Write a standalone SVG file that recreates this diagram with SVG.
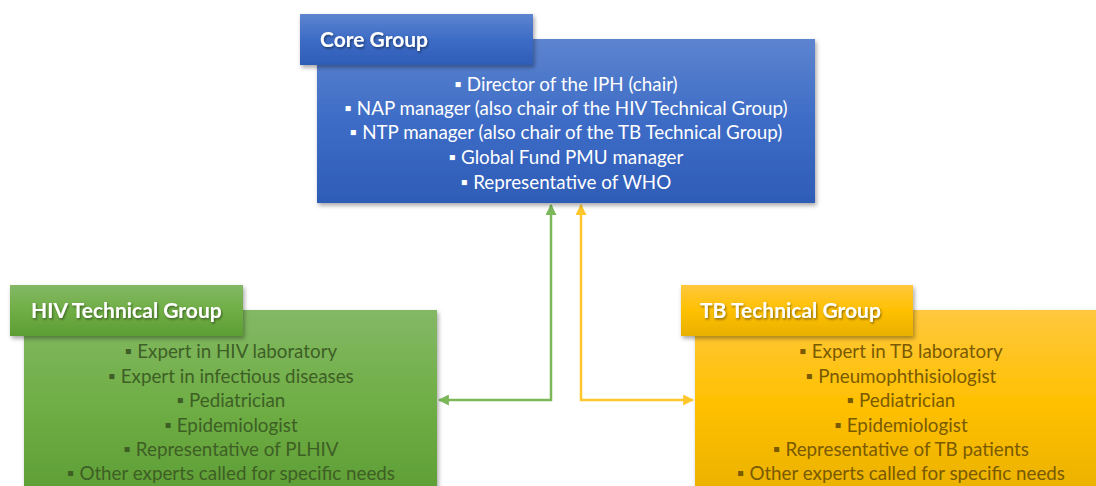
<svg xmlns="http://www.w3.org/2000/svg" width="1096" height="486" viewBox="0 0 1096 486">
<defs>
<style>
.body{font-family:Lato,"Liberation Sans",sans-serif;font-size:18.8px;text-anchor:middle}
.title{font-family:Lato,"Liberation Sans",sans-serif;font-size:21px;font-weight:bold;fill:#ffffff}
.core-t{fill:#ffffff}
.hiv-t{fill:#3d5f25}
.tb-t{fill:#7a5a00}
</style>
<linearGradient id="gBlue" x1="0" y1="0" x2="0" y2="1"><stop offset="0" stop-color="#5d84cf"/><stop offset="0.5" stop-color="#3d6cc6"/><stop offset="1" stop-color="#2e5cb6"/></linearGradient>
<linearGradient id="gGreen" x1="0" y1="0" x2="0" y2="1"><stop offset="0" stop-color="#83b865"/><stop offset="0.5" stop-color="#6fae45"/><stop offset="1" stop-color="#5e9d34"/></linearGradient>
<linearGradient id="gYellow" x1="0" y1="0" x2="0" y2="1"><stop offset="0" stop-color="#ffc83e"/><stop offset="0.5" stop-color="#ffc000"/><stop offset="1" stop-color="#e8b000"/></linearGradient>
<filter id="sh" x="-10%" y="-10%" width="130%" height="140%"><feDropShadow dx="1.5" dy="2.5" stdDeviation="2" flood-color="#000" flood-opacity="0.35"/></filter>
<filter id="tsh" x="-10%" y="-20%" width="130%" height="160%"><feDropShadow dx="1" dy="1.5" stdDeviation="1" flood-color="#000" flood-opacity="0.45"/></filter>
<marker id="aG" viewBox="0 0 10 10" refX="9" refY="5" markerWidth="4.4" markerHeight="4.4" orient="auto-start-reverse"><path d="M0,0 L10,5 L0,10 z" fill="#7cb75a"/></marker>
<marker id="aY" viewBox="0 0 10 10" refX="9" refY="5" markerWidth="4.4" markerHeight="4.4" orient="auto-start-reverse"><path d="M0,0 L10,5 L0,10 z" fill="#ffc72c"/></marker>
</defs>
<rect width="1096" height="486" fill="#ffffff"/>
<g id="connectors" fill="none" stroke-width="2.5">
<path d="M551,205 V400 H439" stroke="#7cb75a" marker-start="url(#aG)" marker-end="url(#aG)"/>
<path d="M581,205 V400 H693" stroke="#ffc72c" marker-start="url(#aY)" marker-end="url(#aY)"/>
</g>
<g id="core">
<rect x="317" y="39" width="498" height="164" fill="url(#gBlue)" filter="url(#sh)"/>
<rect x="300" y="14" width="233" height="51" fill="url(#gBlue)" filter="url(#sh)"/>
<text class="title" x="320" y="47" filter="url(#tsh)">Core Group</text>
<g class="body core-t">
<text x="566" y="91">▪ Director of the IPH (chair)</text>
<text x="566" y="115">▪ NAP manager (also chair of the HIV Technical Group)</text>
<text x="566" y="139">▪ NTP manager (also chair of the TB Technical Group)</text>
<text x="566" y="164">▪ Global Fund PMU manager</text>
<text x="566" y="189">▪ Representative of WHO</text>
</g>
</g>
<g id="hiv">
<rect x="24" y="310" width="413" height="190" fill="url(#gGreen)" filter="url(#sh)"/>
<rect x="10" y="285" width="233" height="51" fill="url(#gGreen)" filter="url(#sh)"/>
<text class="title" x="31" y="318" filter="url(#tsh)">HIV Technical Group</text>
<g class="body hiv-t">
<text x="231" y="358">▪ Expert in HIV laboratory</text>
<text x="231" y="383">▪ Expert in infectious diseases</text>
<text x="231" y="407">▪ Pediatrician</text>
<text x="231" y="432">▪ Epidemiologist</text>
<text x="231" y="456">▪ Representative of PLHIV</text>
<text x="231" y="480">▪ Other experts called for specific needs</text>
</g>
</g>
<g id="tb">
<rect x="695" y="310" width="420" height="190" fill="url(#gYellow)" filter="url(#sh)"/>
<rect x="681" y="285" width="232" height="51" fill="url(#gYellow)" filter="url(#sh)"/>
<text class="title" x="700" y="318" filter="url(#tsh)">TB Technical Group</text>
<g class="body tb-t">
<text x="901" y="358">▪ Expert in TB laboratory</text>
<text x="901" y="383">▪ Pneumophthisiologist</text>
<text x="901" y="407">▪ Pediatrician</text>
<text x="901" y="432">▪ Epidemiologist</text>
<text x="901" y="456">▪ Representative of TB patients</text>
<text x="901" y="480">▪ Other experts called for specific needs</text>
</g>
</g>
</svg>
